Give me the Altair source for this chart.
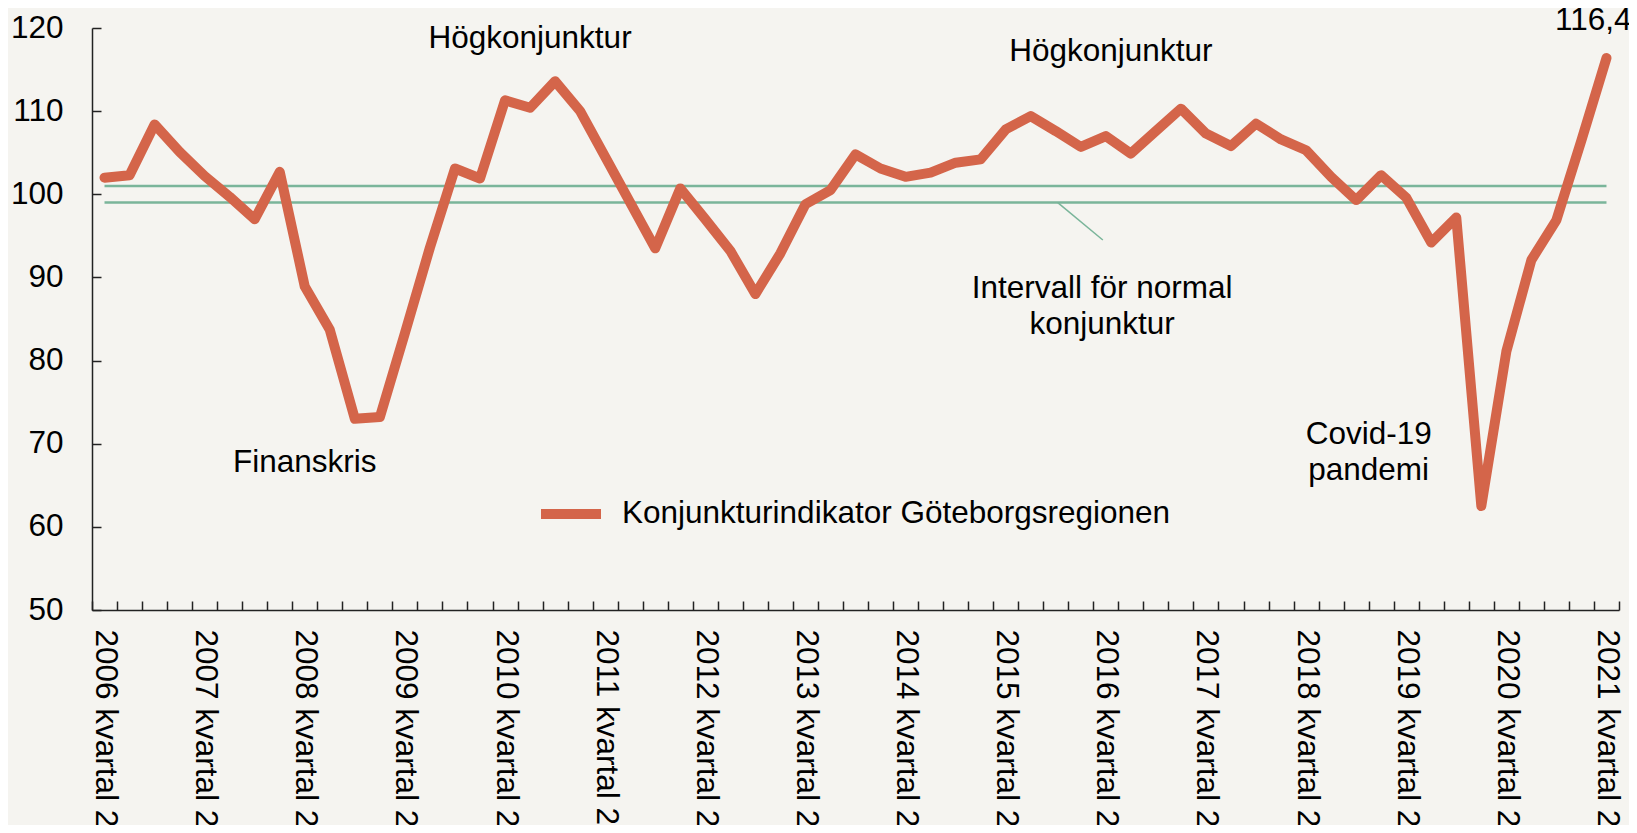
import json
import altair as alt
import pandas as pd

FONT = "Liberation Sans, Arial, Helvetica, sans-serif"
BG = "#f5f4f0"
LINE_COLOR = "#d4654a"
GREEN = "#7ab59a"
AXIS_COLOR = "#222222"

# Quarterly categories, 2006 kvartal 2 .. 2021 kvartal 2
quarters = [f"{2006 + (i + 1) // 4} kvartal {(i + 1) % 4 + 1}" for i in range(61)]

values = [
    102.0, 102.3, 108.4, 105.1, 102.2, 99.7, 97.0, 102.7, 88.9, 83.7,
    73.0, 73.2, 83.3, 93.6, 103.1, 101.9, 111.3, 110.4, 113.6, 110.0,
    104.5, 99.0, 93.5, 100.7, 97.0, 93.2, 88.0, 92.9, 98.8, 100.5,
    104.8, 103.1, 102.1, 102.6, 103.8, 104.2, 107.8, 109.4, 107.6, 105.7,
    107.0, 104.9, 107.6, 110.3, 107.3, 105.8, 108.5, 106.6, 105.3, 102.1,
    99.3, 102.3, 99.6, 94.2, 97.2, 62.5, 81.1, 92.1, 96.9, 106.5,
    116.4,
]
series_name = "Konjunkturindikator Göteborgsregionen"

# Normal interval
band_lo = 99
band_hi = 101

y_ticks = [50, 60, 70, 80, 90, 100, 110, 120]
x_label_idx = list(range(0, 61, 4))
x_tick_pos = [i - 0.5 for i in range(62)]

ann_texts = ["Högkonjunktur", "Högkonjunktur", "Finanskris", "Covid-19\npandemi",
             "Intervall för normal\nkonjunktur", "116,4"]
ann_x = [17.0, 40.2, 8.0, 50.5, 39.85, 59.47]
ann_y = [117.6, 116.0, 66.6, 70.0, 87.5, 119.8]

conn_x = [38.08]
conn_x2 = [39.88]
conn_y = [99.0]
conn_y2 = [94.5]

W, H = 1527, 582

df = pd.DataFrame({"idx": list(range(len(values))), "kvartal": quarters,
                   "value": values, "serie": series_name})
band_df = pd.DataFrame({"y": [band_lo, band_hi], "x0": [0, 0], "x1": [len(values) - 1] * 2})
ann_df = pd.DataFrame({"t": ann_texts, "x": ann_x, "y": ann_y})
conn_df = pd.DataFrame({"x": conn_x, "x2": conn_x2, "y": conn_y, "y2": conn_y2})

xscale = alt.Scale(domain=[-0.5, len(values) - 0.5], nice=False, zero=False)
yscale = alt.Scale(domain=[50, 120], nice=False, zero=False)

label_expr = json.dumps(quarters, ensure_ascii=False) + "[datum.value]"

x_main = alt.Axis(values=x_label_idx, labelExpr=label_expr, labelAngle=90, labelAlign="left",
                  labelBaseline="middle", labelFontSize=31.5, labelFont=FONT, labelColor="#000",
                  ticks=False, tickSize=0, domain=True, domainColor=AXIS_COLOR, domainWidth=1.5,
                  grid=False, title=None, labelPadding=19, labelOverlap=False, labelFlush=False,
                  labelLimit=0)
y_main = alt.Axis(values=y_ticks, ticks=False, tickSize=0, labelPadding=29, labelFontSize=31.5,
                  labelFont=FONT, labelColor="#000", domain=True, domainColor=AXIS_COLOR,
                  domainWidth=1.5, grid=False, title=None, labelFlush=False)

x_ticks_ax = alt.Axis(orient="top", offset=-H, values=x_tick_pos, labels=False, domain=False,
                      tickSize=9, tickColor=AXIS_COLOR, tickWidth=1.5, grid=False, title=None)
y_ticks_ax = alt.Axis(orient="right", offset=-W, values=y_ticks, labels=False, domain=False,
                      tickSize=9, tickColor=AXIS_COLOR, tickWidth=1.5, grid=False, title=None)

bands = alt.Chart(band_df).mark_rule(color=GREEN, strokeWidth=2.5).encode(
    x=alt.X("x0:Q", scale=xscale, axis=None),
    x2="x1:Q",
    y=alt.Y("y:Q", scale=yscale, axis=None),
)

line = alt.Chart(df).mark_line(strokeWidth=10, strokeCap="round", strokeJoin="round").encode(
    x=alt.X("idx:Q", scale=xscale, axis=x_main),
    y=alt.Y("value:Q", scale=yscale, axis=y_main),
    color=alt.Color("serie:N", scale=alt.Scale(range=[LINE_COLOR]),
                    legend=alt.Legend(orient="none", legendX=444, legendY=451, title=None,
                                      symbolType="stroke", symbolSize=3600, symbolStrokeWidth=10,
                                      labelFontSize=31.5, labelFont=FONT, labelColor="#000",
                                      labelOffset=16, padding=0, labelLimit=0)),
)

ticks_layer = alt.Chart(df).mark_point(opacity=0).encode(
    x=alt.X("idx:Q", scale=xscale, axis=x_ticks_ax),
    y=alt.Y("value:Q", scale=yscale, axis=y_ticks_ax),
)

conn = alt.Chart(conn_df).mark_rule(color=GREEN, strokeWidth=1.5).encode(
    x=alt.X("x:Q", scale=xscale, axis=None), x2="x2:Q",
    y=alt.Y("y:Q", scale=yscale, axis=None), y2="y2:Q",
)

ann = alt.Chart(ann_df).mark_text(font=FONT, fontSize=31.5, align="center", baseline="alphabetic",
                                  lineBreak="\n", lineHeight=36, color="#000").encode(
    x=alt.X("x:Q", scale=xscale, axis=None),
    y=alt.Y("y:Q", scale=yscale, axis=None),
    text="t:N",
)

chart = alt.layer(bands, conn, line, ann, ticks_layer).resolve_axis(
    x="independent", y="independent"
).properties(
    width=W, height=H,
    autosize=alt.AutoSizeParams(type="none"),
    padding={"left": 84, "top": 20, "right": 10, "bottom": 215},
    background=BG,
).configure_view(stroke=None)

chart.save("out.html", embed_options={"renderer": "svg", "actions": False})
